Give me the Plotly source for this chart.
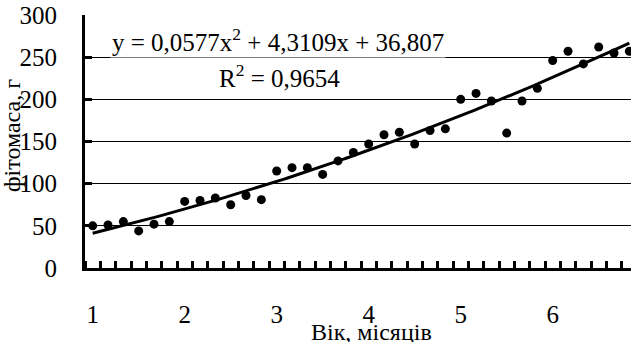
import numpy as np
import plotly.graph_objects as go

# Data: age (months), one observation every 1/6 month, 36 observations
age = [1 + i / 6 for i in range(36)]
biomass = [50, 51, 55, 44, 52, 55, 79, 80, 83, 75, 86, 81,
           115, 119, 119, 111, 127, 137, 147, 158, 161, 147, 163, 165,
           200, 207, 198, 160, 198, 213, 246, 257, 242, 262, 255, 257]
x_ticks = [1, 2, 3, 4, 5, 6]
x_tick_labels = ["1", "2", "3", "4", "5", "6"]
y_ticks = [0, 50, 100, 150, 200, 250, 300]

# Polynomial trendline (Excel, x = observation number 1..36)
coef_a, coef_b, coef_c = 0.0577, 4.3109, 36.807
n = np.linspace(1, 36, 200)
trend_x = 1 + (n - 1) / 6
trend_y = coef_a * n**2 + coef_b * n + coef_c

FONT = "Liberation Serif"
FS = 25
FS_T = 24

fig = go.Figure()
fig.add_trace(go.Scatter(x=trend_x, y=trend_y, mode="lines",
                         line=dict(color="black", width=3), hoverinfo="skip"))
fig.add_trace(go.Scatter(x=age, y=biomass, mode="markers",
                         marker=dict(color="black", size=9)))

fig.update_layout(
    width=631, height=342,
    margin=dict(l=85, r=0, t=15, b=74),
    paper_bgcolor="white", plot_bgcolor="white",
    showlegend=False,
    font=dict(family=FONT, size=FS, color="black"),
)
fig.update_xaxes(
    range=[1 - 1 / 12, 6.851], automargin=False,
    tickvals=x_ticks, ticktext=x_tick_labels,
    tickfont=dict(family=FONT, size=FS, color="black"),
    ticks="", showgrid=False, zeroline=False,
    showline=True, linecolor="black", linewidth=3,
    ticklabelstandoff=22,
    minor=dict(ticks="inside", tick0=1 + 1 / 12, dtick=1 / 6,
               ticklen=7, tickwidth=3, tickcolor="black", showgrid=False),
)
fig.update_yaxes(
    range=[0, 300], tickvals=y_ticks, automargin=False,
    tickfont=dict(family=FONT, size=FS, color="black"),
    ticks="inside", ticklen=7, tickwidth=3, tickcolor="black",
    showgrid=True, gridcolor="black", gridwidth=1,
    zeroline=False,
    showline=True, linecolor="black", linewidth=3,
    ticklabelstandoff=20,
)

fig.add_annotation(text="фітомаса, г", xref="paper", yref="paper",
                   x=0, y=(268 - 136) / 253, xshift=-73, textangle=-90,
                   showarrow=False, xanchor="center", yanchor="middle",
                   font=dict(family=FONT, size=FS_T))
fig.add_annotation(text="Вік, місяців", xref="paper", yref="paper",
                   x=(371 - 85) / 546, y=0, yshift=-64,
                   showarrow=False, xanchor="center", yanchor="middle",
                   font=dict(family=FONT, size=FS_T))
fig.add_annotation(text="y = 0,0577x<sup>2</sup> + 4,3109x + 36,807",
                   xref="paper", yref="paper", x=(278 - 85) / 546, y=(268 - 40) / 253,
                   showarrow=False, xanchor="center", yanchor="middle",
                   bgcolor="white", font=dict(family=FONT, size=FS))
fig.add_annotation(text="R<sup>2</sup> = 0,9654",
                   xref="paper", yref="paper", x=(279 - 85) / 546, y=(268 - 76) / 253,
                   showarrow=False, xanchor="center", yanchor="middle",
                   bgcolor="white", font=dict(family=FONT, size=FS))

fig.write_html("out.html", config={"displayModeBar": False},
               post_script="document.body.style.margin='0';")
